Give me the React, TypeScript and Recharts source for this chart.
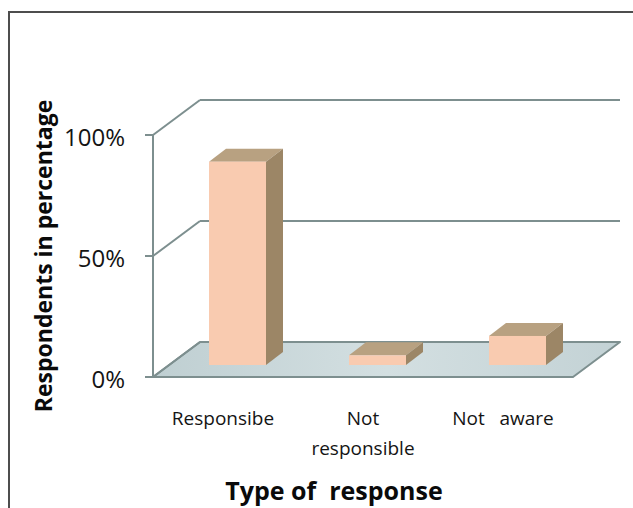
import React from 'react';
import { BarChart, Bar, XAxis, YAxis, ReferenceLine, Label } from 'recharts';

const categories = ['Responsibe', 'Not\nresponsible', 'Not   aware'];
const respondentShare = [0.84, 0.04, 0.12];
const yTicks = [0, 0.5, 1];

const data = categories.map((name, i) => ({ name, value: respondentShare[i] }));

// offsets of the fake 3D box: back wall and the bars' depth
const DEPTH_X = 47;
const DEPTH_Y = -35;
const BAR_SHIFT_X = 14;
const BAR_SHIFT_Y = -12;
const BAR_DEPTH_X = 17;
const BAR_DEPTH_Y = -13;

const GRID = '#7d8f8f';
const FONT = '"Open Sans", sans-serif';
const TEXT = '#141414';

function Bar3D(props: any) {
    const { x, y, width, height } = props;
    if (height == null || width == null) return null;
    const fx = x + BAR_SHIFT_X;
    const fy = y + BAR_SHIFT_Y;
    const top = `${fx},${fy} ${fx + BAR_DEPTH_X},${fy + BAR_DEPTH_Y} ${fx + width + BAR_DEPTH_X},${fy + BAR_DEPTH_Y} ${fx + width},${fy}`;
    const side = `${fx + width},${fy} ${fx + width + BAR_DEPTH_X},${fy + BAR_DEPTH_Y} ${fx + width + BAR_DEPTH_X},${fy + BAR_DEPTH_Y + height} ${fx + width},${fy + height}`;
    return (
        <g>
            <polygon points={top} fill="#b8a181" />
            <polygon points={side} fill="#9c8666" />
            <rect x={fx} y={fy} width={width} height={height} fill="#f9cbb0" />
        </g>
    );
}

// gridline on the back wall plus the diagonal running back from the front axis
function WallLine(props: any) {
    const { x1, y1, x2, y2 } = props;
    return (
        <g>
            <line x1={x1} y1={y1} x2={x1 + DEPTH_X} y2={y1 + DEPTH_Y} stroke={GRID} strokeWidth={2} />
            <line x1={x1 + DEPTH_X} y1={y1 + DEPTH_Y} x2={x2 + DEPTH_X} y2={y2 + DEPTH_Y} stroke={GRID} strokeWidth={2} />
        </g>
    );
}

function Floor(props: any) {
    const { x1, y1, x2, y2 } = props;
    const pts = `${x1},${y1} ${x1 + DEPTH_X},${y1 + DEPTH_Y} ${x2 + DEPTH_X},${y2 + DEPTH_Y} ${x2},${y2}`;
    return (
        <g>
            <defs>
                <linearGradient id="floorFill" x1="0" y1="0" x2="1" y2="0">
                    <stop offset="0%" stopColor="#bfcfd2" />
                    <stop offset="50%" stopColor="#d3dfe1" />
                    <stop offset="100%" stopColor="#c3d2d5" />
                </linearGradient>
            </defs>
            <polygon points={pts} fill="url(#floorFill)" stroke={GRID} strokeWidth={2} strokeLinejoin="round" />
        </g>
    );
}

function YTick({ x, y, payload }: any) {
    return (
        <text x={x} y={y + 11} textAnchor="end" fontFamily={FONT} fontSize={24} fill={TEXT}>
            {`${Math.round(payload.value * 100)}%`}
        </text>
    );
}

function XTick({ x, y, payload }: any) {
    const lines = String(payload.value).split('\n');
    return (
        <text x={x} y={y + 48} textAnchor="middle" fontFamily={FONT} fontSize={19} fill={TEXT} style={{ whiteSpace: 'pre' }}>
            {lines.map((l, i) => (
                <tspan key={i} x={x} dy={i === 0 ? 0 : 30}>{l}</tspan>
            ))}
        </text>
    );
}

export default function App() {
    return (
        <div style={{ position: 'absolute', left: 0, top: 0, width: 633, height: 508, background: '#fff' }}>
            <div style={{ position: 'absolute', left: 8, top: 11, right: 0, bottom: 0, borderLeft: '2px solid #4d4d4d', borderTop: '2px solid #4d4d4d' }} />
            <BarChart
                width={633}
                height={508}
                data={data}
                margin={{ top: 135, right: 60, bottom: 0, left: 0 }}
                style={{ position: 'absolute', left: 0, top: 0 }}
            >
                <XAxis
                    dataKey="name"
                    height={131}
                    axisLine={false}
                    tickLine={false}
                    tickSize={0}
                    tickMargin={0}
                    interval={0}
                    tick={(p: any) => <XTick {...p} />}
                >
                    <Label
                        content={(p: any) => {
                            const vb = p.viewBox;
                            return (
                                <text x={vb.x + vb.width / 2 - 29} y={vb.y + vb.height - 8} textAnchor="middle"
                                    fontFamily={FONT} fontWeight="bold" fontSize={25} fill="#0a0a0a" style={{ whiteSpace: 'pre' }}>
                                    Type of  response
                                </text>
                            );
                        }}
                    />
                </XAxis>
                <YAxis
                    width={153}
                    domain={[0, 1]}
                    ticks={yTicks}
                    tickSize={8}
                    tickMargin={20}
                    axisLine={{ stroke: GRID, strokeWidth: 2 }}
                    tickLine={{ stroke: GRID, strokeWidth: 2 }}
                    tick={(p: any) => <YTick {...p} />}
                >
                    <Label
                        content={(p: any) => {
                            const vb = p.viewBox;
                            const cx = vb.x + 52;
                            const cy = vb.y + vb.height / 2;
                            return (
                                <text x={cx} y={cy} textAnchor="middle" transform={`rotate(-90, ${cx}, ${cy})`}
                                    fontFamily={FONT} fontWeight="bold" fontSize={23} fill="#0a0a0a">
                                    Respondents in percentage
                                </text>
                            );
                        }}
                    />
                </YAxis>
                <ReferenceLine y={0} zIndex={-20} shape={(p: any) => <Floor {...p} />} />
                {yTicks.map((t) => (
                    <ReferenceLine key={t} y={t} zIndex={-10} shape={(p: any) => <WallLine {...p} />} />
                ))}
                <Bar dataKey="value" barSize={57} shape={(p: any) => <Bar3D {...p} />} isAnimationActive={false} />
            </BarChart>
        </div>
    );
}
